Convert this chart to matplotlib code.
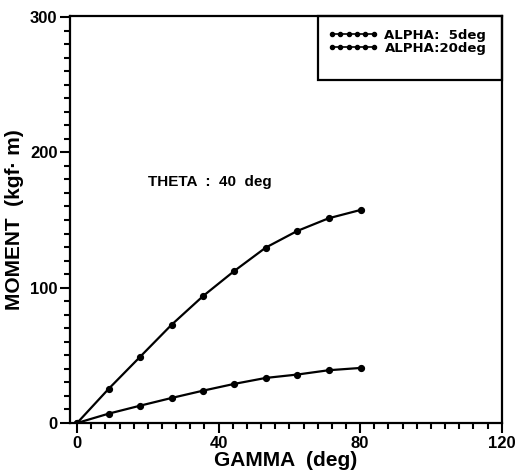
import matplotlib
matplotlib.use("Agg")
import matplotlib.pyplot as plt
from matplotlib.patches import Rectangle
from matplotlib.ticker import MultipleLocator

# gamma (deg) and moment (kgf.m)
gamma = [0, 8.9, 17.8, 26.7, 35.6, 44.4, 53.3, 62.2, 71.1, 80.2]
moment_5deg = [0, 6.9, 12.8, 18.5, 23.9, 28.9, 33.3, 35.8, 39.0, 40.7]
moment_20deg = [0, 25.2, 48.9, 72.6, 93.8, 112.3, 129.6, 141.9, 151.3, 157.5]
labels = ["ALPHA:  5deg", "ALPHA:20deg"]

plt.rcParams["font.family"] = ["Liberation Sans", "DejaVu Sans"]
plt.rcParams["font.weight"] = "bold"

fig = plt.figure(figsize=(5.16, 4.71), dpi=100)
ax = fig.add_axes([0.1357, 0.1019, 0.8366, 0.8648])

ax.plot(gamma, moment_5deg, "-o", color="black", lw=1.6, ms=4.2, label=labels[0])
ax.plot(gamma, moment_20deg, "-o", color="black", lw=1.6, ms=4.2, label=labels[1])

ax.set_xlim(-2, 120)
ax.set_ylim(0, 301)
ax.xaxis.set_major_locator(MultipleLocator(40))
ax.xaxis.set_minor_locator(MultipleLocator(4))
ax.yaxis.set_major_locator(MultipleLocator(100))
ax.yaxis.set_minor_locator(MultipleLocator(10))
ax.tick_params(which="major", length=7, width=1.5, labelsize=12, pad=2)
ax.tick_params(which="minor", length=4, width=1.5)
for s in ax.spines.values():
    s.set_linewidth(1.6)

ax.set_xlabel("GAMMA  (deg)", fontsize=15, fontweight="bold", labelpad=0)
ax.set_ylabel("MOMENT  (kgf\u00b7 m)", fontsize=15, fontweight="bold", labelpad=4)

ax.text(20, 178, "THETA  :  40  deg", fontsize=11, fontweight="bold", va="center")

# legend box drawn against the top right corner
ax.add_patch(Rectangle((0.5745, 0.842), 0.4255, 0.158, transform=ax.transAxes,
                       fill=False, edgecolor="black", lw=1.6, clip_on=False))
leg = ax.legend(loc="upper left", bbox_to_anchor=(0.597, 0.968), frameon=False,
                numpoints=6, markerscale=0.7, handlelength=3.8, handletextpad=0.5,
                labelspacing=0.0, borderpad=0, borderaxespad=0,
                prop={"family": "DejaVu Sans", "weight": "bold", "size": 9.5})
for h in leg.get_lines():
    h.set_linewidth(1.2)

fig.savefig("out.png", dpi=100)
